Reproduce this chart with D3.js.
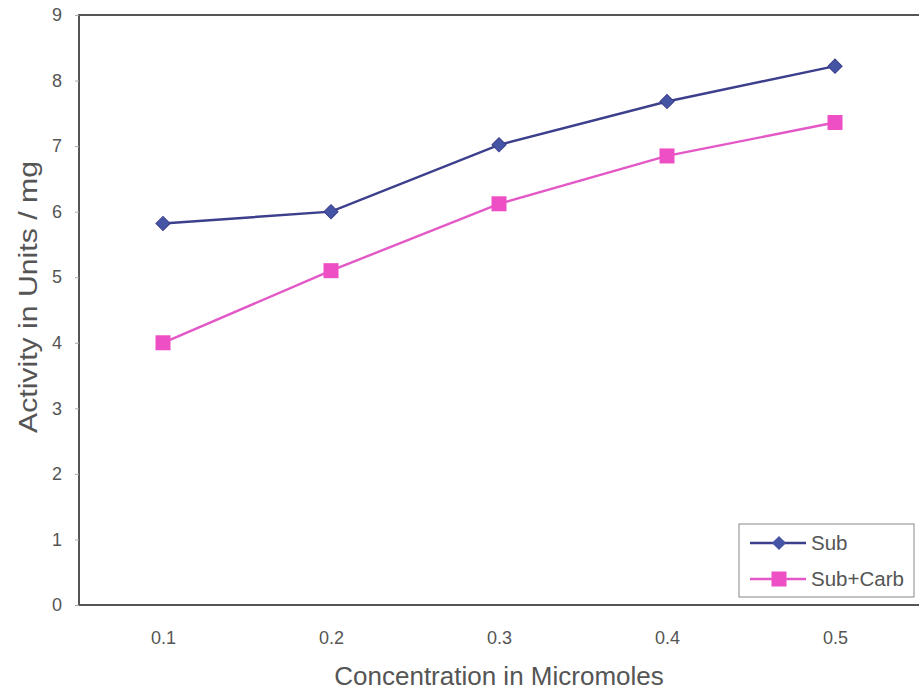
<!DOCTYPE html>
<html><head><meta charset="utf-8">
<script src="https://cdn.jsdelivr.net/npm/d3@7/dist/d3.min.js"></script>
<style>body{margin:0;background:#fff}svg{display:block}text{font-family:"Liberation Sans",Arial,sans-serif}</style>
</head><body><svg id="c" width="919" height="694"></svg>
<script>
const categories = ["0.1","0.2","0.3","0.4","0.5"];
const subValues = [5.82, 6.0, 7.02, 7.68, 8.22];
const subCarbValues = [4.0, 5.1, 6.12, 6.85, 7.36];
const yTicks = [0,1,2,3,4,5,6,7,8,9];
const seriesNames = ["Sub","Sub+Carb"];

const svg = d3.select("#c");
const L = 79, T = 15, R = 919, B = 605;
const x = d3.scalePoint().domain(categories).range([L + 84, L + 84 + 4*168]);
const y = d3.scaleLinear().domain([0,9]).range([B, T]);
const txt = "#555";

// frame
svg.append("rect").attr("x", L).attr("y", T).attr("width", 860).attr("height", B - T)
  .attr("fill", "none").attr("stroke", "#555").attr("stroke-width", 2);

// y axis
const ya = svg.append("g").attr("transform", `translate(${L},0)`)
  .call(d3.axisLeft(y).tickValues(yTicks).tickFormat(d3.format("d")).tickSize(4));
ya.select(".domain").remove();
ya.selectAll("line").attr("stroke", "#aaa");
ya.selectAll("text").attr("fill", txt).attr("font-size", 18).attr("x", -17);

// x axis labels
const xa = svg.append("g").attr("transform", `translate(0,${B})`)
  .call(d3.axisBottom(x).tickSize(0));
xa.select(".domain").remove();
xa.selectAll("text").attr("fill", txt).attr("font-size", 18).attr("y", 0).attr("dy", 0)
  .attr("transform", "translate(0,39)");

// titles
svg.append("text").attr("x", 499).attr("y", 685).attr("text-anchor", "middle")
  .attr("fill", txt).attr("font-size", 26).text("Concentration in Micromoles");
svg.append("text").attr("transform", "translate(37,297) rotate(-90)").attr("text-anchor", "middle")
  .attr("fill", txt).attr("font-size", 26).attr("textLength", 272).attr("lengthAdjust", "spacingAndGlyphs")
  .text("Activity in Units / mg");

const subColor = "#3c3f8c", subMarker = "#4654a6";
const carbColor = "#e358c6", carbMarker = "#ee4fc4";

const line = d3.line().x((d, i) => x(categories[i])).y(d => y(d));
svg.append("path").datum(subValues).attr("d", line).attr("fill", "none")
  .attr("stroke", subColor).attr("stroke-width", 2.4);
svg.append("path").datum(subCarbValues).attr("d", line).attr("fill", "none")
  .attr("stroke", carbColor).attr("stroke-width", 2.4);

svg.selectAll(".sm").data(subValues).enter().append("path")
  .attr("transform", (d, i) => `translate(${x(categories[i])},${y(d)}) rotate(45)`)
  .attr("d", d3.symbol().type(d3.symbolSquare).size(100)).attr("fill", subMarker).attr("stroke", subColor).attr("stroke-width", 1);
svg.selectAll(".cm").data(subCarbValues).enter().append("rect")
  .attr("x", (d, i) => x(categories[i]) - 7.5).attr("y", d => y(d) - 7.5)
  .attr("width", 15).attr("height", 15).attr("fill", carbMarker);

// legend
const lg = svg.append("g");
lg.append("rect").attr("x", 739).attr("y", 524).attr("width", 175).attr("height", 73)
  .attr("fill", "#fff").attr("stroke", "#888").attr("stroke-width", 1);
const items = [{n: seriesNames[0], c: subColor, m: subMarker, t: "d"}, {n: seriesNames[1], c: carbColor, m: carbMarker, t: "s"}];
items.forEach((it, i) => {
  const yy = 543 + i * 36;
  lg.append("line").attr("x1", 750).attr("x2", 806).attr("y1", yy).attr("y2", yy)
    .attr("stroke", it.c).attr("stroke-width", 2.4);
  if (it.t === "d") {
    lg.append("path").attr("transform", `translate(779,${yy}) rotate(45)`)
      .attr("d", d3.symbol().type(d3.symbolSquare).size(100)).attr("fill", it.m);
  } else {
    lg.append("rect").attr("x", 771.5).attr("y", yy - 7.5).attr("width", 15).attr("height", 15).attr("fill", it.m);
  }
  lg.append("text").attr("x", 811).attr("y", yy + 7).attr("font-size", 20.5).attr("fill", txt).text(it.n);
});
</script></body></html>
